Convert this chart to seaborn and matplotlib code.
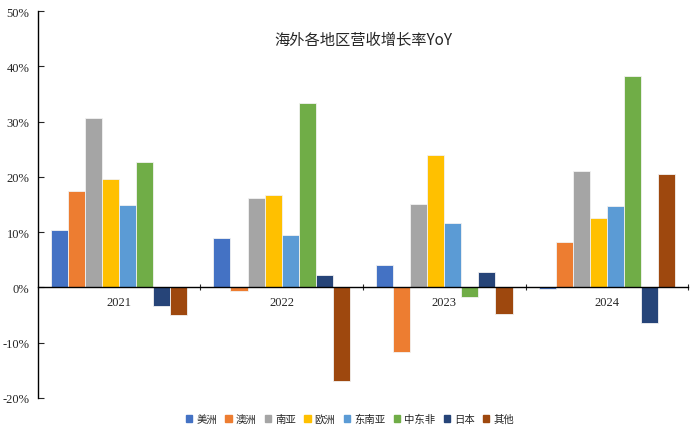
import pandas as pd
import seaborn as sns
import matplotlib.pyplot as plt
from matplotlib.ticker import FixedLocator, FuncFormatter

years = ["2021", "2022", "2023", "2024"]
regions = ["美洲", "澳洲", "南亚", "欧洲", "东南亚", "中东非", "日本", "其他"]
colors = ["#4472C4", "#ED7D31", "#A5A5A5", "#FFC000",
          "#5B9BD5", "#70AD47", "#264478", "#9E480E"]

# YoY growth, percent, one list per region (2021..2024)
america = [10.4, 9.0, 4.1, -0.3]
oceania = [17.4, -0.6, -11.7, 8.2]
south_asia = [30.6, 16.2, 15.1, 21.1]
europe = [19.6, 16.8, 24.0, 12.5]
se_asia = [15.0, 9.4, 11.6, 14.7]
me_africa = [22.7, 33.3, -1.8, 38.3]
japan = [-3.3, 2.3, 2.7, -6.5]
other = [-5.0, -17.0, -4.9, 20.5]

series = [america, oceania, south_asia, europe, se_asia, me_africa, japan, other]
rows = []
for reg, vals in zip(regions, series):
    for yr, v in zip(years, vals):
        rows.append({"year": yr, "region": reg, "value": v})
df = pd.DataFrame(rows)

sns.set_style("white")
plt.rcParams["font.family"] = ["Liberation Serif", "Noto Sans CJK SC", "DejaVu Sans"]

fig = plt.figure(figsize=(7, 4.35), dpi=100)
ax = fig.add_axes([0.054, 0.083, 0.929, 0.889])

sns.barplot(data=df, x="year", y="value", hue="region", hue_order=regions,
            order=years, palette=colors, saturation=1, width=0.84,
            errorbar=None, edgecolor="#f2f2f2", linewidth=0.6, ax=ax)
ax.get_legend().remove()

ax.set_xlim(-0.5, 3.5)
ax.set_ylim(-20, 50)
ax.set_yticks(range(-20, 51, 10))
ax.yaxis.set_major_formatter(FuncFormatter(lambda v, p: f"{v:.0f}%"))
ax.set_xlabel("")
ax.set_ylabel("")

# category axis sits on the zero line
ax.spines["bottom"].set_position(("data", 0))
ax.spines["top"].set_visible(False)
ax.spines["right"].set_visible(False)
ax.spines["left"].set_color("black")
ax.spines["bottom"].set_color("black")
ax.spines["left"].set_linewidth(1.0)
ax.spines["bottom"].set_linewidth(1.0)

ax.xaxis.set_major_locator(FixedLocator([0.5, 1.5, 2.5, 3.5]))
ax.xaxis.set_minor_locator(FixedLocator([0, 1, 2, 3]))
ax.set_xticklabels([], minor=False)
ax.set_xticklabels(years, minor=True)
ax.tick_params(axis="x", which="major", direction="inout", length=5, width=0.8,
               bottom=True)
ax.tick_params(axis="x", which="minor", length=0, pad=6, labelsize=9,
               bottom=True)
ax.tick_params(axis="y", direction="in", length=4, width=0.8, left=True,
               labelsize=9, pad=6)

ax.text(0.5, 0.928, "海外各地区营收增长率YoY", transform=ax.transAxes,
        ha="center", va="center", fontsize=11,
        family=["Noto Sans CJK SC", "DejaVu Sans"])

handles = [plt.Rectangle((0, 0), 1, 1, color=c) for c in colors]
fig.legend(handles, regions, loc="center", bbox_to_anchor=(0.5, 0.035),
           ncol=8, frameon=False, handlelength=0.6,
           handleheight=0.6, handletextpad=0.4, columnspacing=0.8,
           prop={"family": ["Noto Sans CJK SC", "DejaVu Sans"], "size": 7.5})

fig.savefig("out.png", dpi=100)
